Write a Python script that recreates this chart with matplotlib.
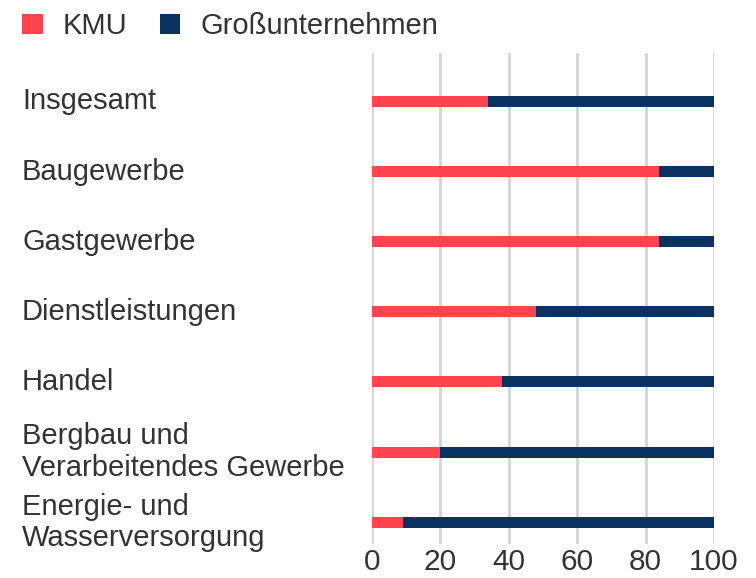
import matplotlib.pyplot as plt
import matplotlib.transforms as mtransforms

# data (share in percent)
categories = ['Insgesamt', 'Baugewerbe', 'Gastgewerbe', 'Dienstleistungen', 'Handel',
              'Bergbau und\nVerarbeitendes Gewerbe', 'Energie- und\nWasserversorgung']
kmu = [34, 84, 84, 48, 38, 20, 9]
gross = [66, 16, 16, 52, 62, 80, 91]
series_names = ['KMU', 'Großunternehmen']
xticks = [0, 20, 40, 60, 80, 100]

red = '#ff444f'
navy = '#0b3160'
text_col = '#333333'

plt.rcParams['font.family'] = ['Liberation Sans', 'DejaVu Sans']

fig = plt.figure(figsize=(7.56, 5.78), dpi=100)
# axes box: x 372..714 px, y 53..544 px
ax = fig.add_axes([372 / 756, 1 - 544 / 578, (714 - 372) / 756, (544 - 53) / 578])

ypos = list(range(len(categories)))
ax.barh(ypos, kmu, height=0.157, color=red, label=series_names[0], zorder=3)
ax.barh(ypos, gross, left=kmu, height=0.157, color=navy, label=series_names[1], zorder=3)

ax.set_xlim(0, 100)
ax.set_ylim(6.31, -0.69)
ax.set_xticks(xticks)
ax.set_xticklabels([str(t) for t in xticks], fontsize=21.5, color=text_col)
ax.set_yticks([])
ax.tick_params(axis='x', length=0, pad=3)
ax.grid(axis='x', color='#d4d4d4', linewidth=2, zorder=0)
for s in ax.spines.values():
    s.set_visible(False)

# category labels, left aligned at the figure edge
trans = mtransforms.blended_transform_factory(fig.transFigure, ax.transData)
for y, name in zip(ypos, categories):
    ax.text(22 / 756, y, name, transform=trans, ha='left', va='center',
            fontsize=21, color=text_col, linespacing=1.15)

fig.legend(loc='upper left', bbox_to_anchor=(-4 / 756, 1 + 14 / 578), ncol=2, frameon=False,
           fontsize=21, handlelength=0.7, handleheight=0.7, handletextpad=0.7,
           columnspacing=1.1, labelcolor=text_col)

fig.savefig('out.png', dpi=100)
